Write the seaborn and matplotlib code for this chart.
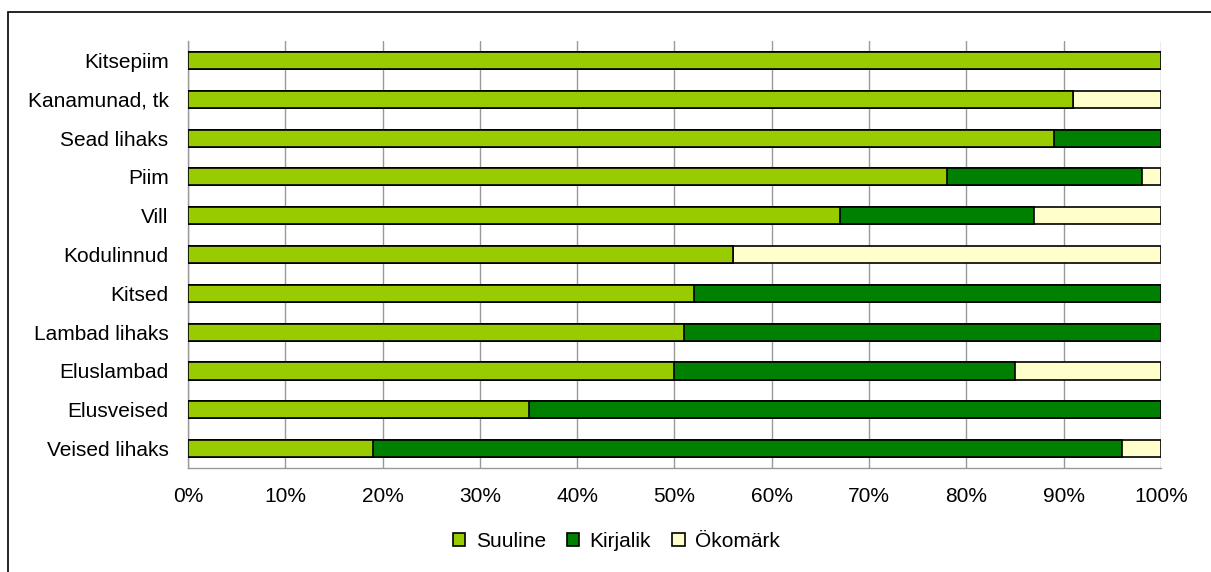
import numpy as np
import pandas as pd
import matplotlib
matplotlib.use("Agg")
import matplotlib.pyplot as plt
import seaborn as sns
from matplotlib.patches import Patch, Rectangle
from matplotlib.ticker import FixedLocator, PercentFormatter

# Data (shares in %)
categories = ['Kitsepiim', 'Kanamunad, tk', 'Sead lihaks', 'Piim', 'Vill', 'Kodulinnud',
              'Kitsed', 'Lambad lihaks', 'Eluslambad', 'Elusveised', 'Veised lihaks']
suuline = [100, 91, 89, 78, 67, 56, 52, 51, 50, 35, 19]
kirjalik = [0, 0, 11, 20, 20, 0, 48, 49, 35, 65, 77]
okomark = [0, 9, 0, 2, 13, 44, 0, 0, 15, 0, 4]

series_names = ['Suuline', 'Kirjalik', 'Ökomärk']
colors = ['#99cc00', '#008000', '#ffffcc']

df = pd.DataFrame({'category': categories, 'Suuline': suuline,
                   'Kirjalik': kirjalik, 'Ökomärk': okomark})
df['cum1'] = df['Suuline']
df['cum2'] = df['Suuline'] + df['Kirjalik']
df['cum3'] = df['cum2'] + df['Ökomärk']

sns.set_style('white')
plt.rcParams['font.family'] = ['Liberation Sans', 'DejaVu Sans']
plt.rcParams['text.color'] = 'black'

fig = plt.figure(figsize=(12.11, 5.72), dpi=100)
ax = fig.add_axes([0.1552, 0.1818, 0.8035, 0.7465])

# Stacked bars: draw cumulative totals from the back to the front
for col, color in zip(['cum3', 'cum2', 'cum1'], colors[::-1]):
    sns.barplot(data=df, x=col, y='category', order=categories, orient='h',
                color=color, edgecolor='black', linewidth=1.2, width=0.44,
                saturation=1, ax=ax, zorder=3)

ax.set_xlim(0, 100)
ax.set_ylim(len(categories) - 0.5, -0.5)
ax.set_xlabel('')
ax.set_ylabel('')
ax.xaxis.set_major_locator(FixedLocator(np.arange(0, 101, 10)))
ax.xaxis.set_major_formatter(PercentFormatter(decimals=0))
ax.grid(axis='x', color='#999999', linewidth=1, zorder=0)
ax.grid(axis='y', visible=False)

for s in ['top', 'right']:
    ax.spines[s].set_visible(False)
for s in ['left', 'bottom']:
    ax.spines[s].set_color('#999999')
    ax.spines[s].set_linewidth(1)

ax.tick_params(axis='x', which='major', direction='out', length=5, color='#999999',
               labelsize=15, pad=9, labelcolor='black')
ax.tick_params(axis='y', which='major', length=0, labelsize=15, pad=14, labelcolor='black')
ax.yaxis.set_minor_locator(FixedLocator(np.arange(-0.5, len(categories), 1)))
ax.tick_params(axis='y', which='minor', direction='out', length=6, color='#999999')

handles = [Patch(facecolor=c, edgecolor='black', linewidth=1.2, label=n)
           for n, c in zip(series_names, colors)]
fig.legend(handles=handles, loc='center', bbox_to_anchor=(0.509, 0.054), ncol=3,
           frameon=False, fontsize=15, handlelength=0.6, handleheight=0.6,
           handletextpad=0.5, columnspacing=1.0)

# Outer chart frame (bottom and right edges run off the picture)
fig.patches.append(Rectangle((8 / 1211, -0.05), 1.2, 1.05 - 12 / 572, transform=fig.transFigure,
                             fill=False, edgecolor='black', linewidth=1.2))

fig.savefig('out.png', dpi=100)
